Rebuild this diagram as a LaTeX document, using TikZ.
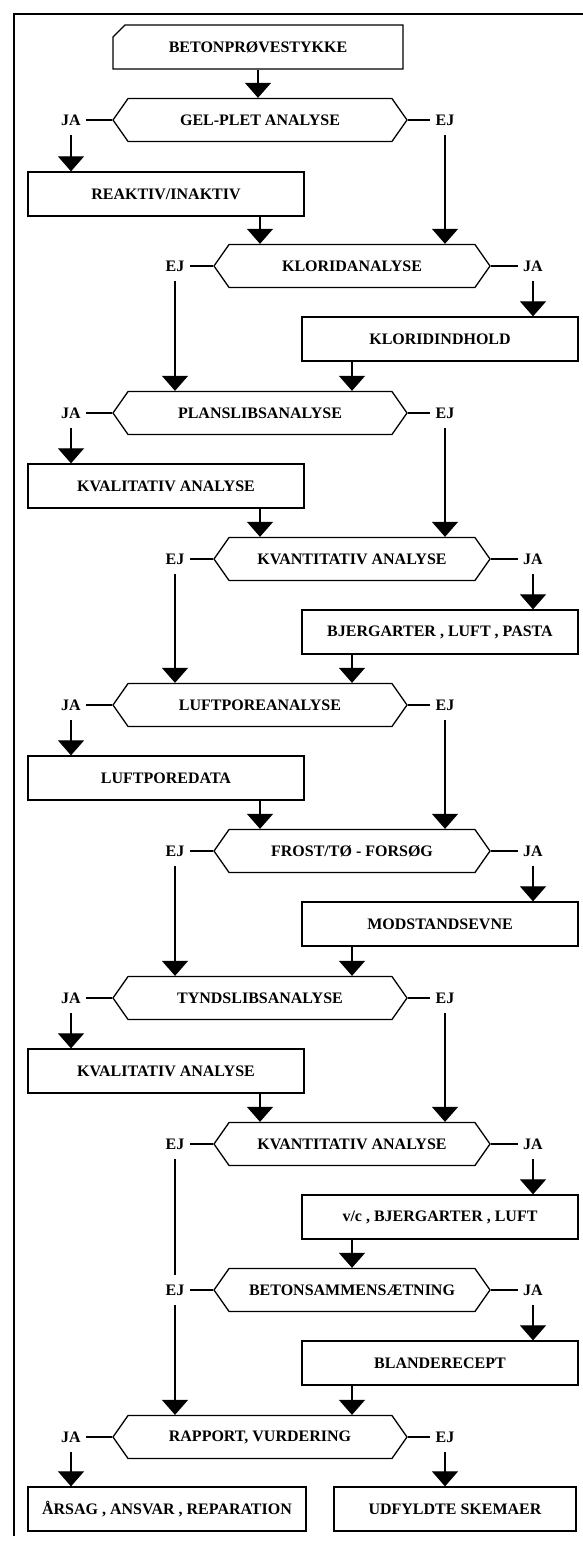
\documentclass[tikz,border=0pt]{standalone}
\usepackage{fontspec}
\setmainfont{Liberation Serif}
\usetikzlibrary{shapes.symbols,shapes.misc,arrows.meta}
\tikzstyle{txt} = [font=\bfseries\fontsize{16pt}{17pt}\selectfont, line width=1.3pt]
\tikzstyle{hexl} = [txt, signal, signal to=west and east, signal pointer angle=110, draw=black, minimum width=294pt, minimum height=43pt, inner sep=0pt]
\tikzstyle{hexr} = [hexl, minimum width=276pt]
\tikzstyle{boks} = [txt, rectangle, draw=black, minimum width=276pt, minimum height=44pt]
\tikzstyle{svar} = [txt, inner xsep=5pt, inner ysep=9pt]
\tikzstyle{streg} = [line width=1.2pt]
\tikzstyle{flow} = [streg, -{Triangle[width=26pt,length=15pt]}]

\begin{document}
\begin{tikzpicture}[x=1pt, y=-1pt]%
	\useasboundingbox (0,0) rectangle (583,1541);%
	\draw[line width=1.5pt] (583,14) -- (14,14) -- (14,1536);%
	% spoergsmaal
	\node[hexl] (h1) at (260,120) {GEL-PLET ANALYSE};%
	\node[hexr] (h2) at (352,266) {KLORIDANALYSE};%
	\node[hexl] (h3) at (260,413) {PLANSLIBSANALYSE};%
	\node[hexr] (h4) at (352,559) {KVANTITATIV ANALYSE};%
	\node[hexl] (h5) at (260,705) {LUFTPOREANALYSE};%
	\node[hexr] (h6) at (352,851) {FROST/TØ - FORSØG};%
	\node[hexl] (h7) at (260,998) {TYNDSLIBSANALYSE};%
	\node[hexr] (h8) at (352,1144) {KVANTITATIV ANALYSE};%
	\node[hexr] (h9) at (352,1290) {BETONSAMMENSÆTNING};%
	\node[hexl] (h10) at (260,1437) {RAPPORT, VURDERING};%
	% resultater
	\node[boks, chamfered rectangle, chamfered rectangle corners=north west, chamfered rectangle xsep=12pt, minimum width=290pt] (start) at (258,47) {BETONPRØVESTYKKE};%
	\node[boks] (b1) at (166,194) {REAKTIV/INAKTIV};%
	\node[boks] (b2) at (440,339) {KLORIDINDHOLD};%
	\node[boks] (b3) at (166,486) {KVALITATIV ANALYSE};%
	\node[boks] (b4) at (440,632) {BJERGARTER , LUFT , PASTA};%
	\node[boks] (b5) at (166,778) {LUFTPOREDATA};%
	\node[boks] (b6) at (440,924) {MODSTANDSEVNE};%
	\node[boks] (b7) at (166,1071) {KVALITATIV ANALYSE};%
	\node[boks] (b8) at (440,1217) {v/c , BJERGARTER , LUFT};%
	\node[boks] (b9) at (440,1363) {BLANDERECEPT};%
	\node[boks, minimum width=278pt] (b10) at (167,1509) {ÅRSAG , ANSVAR , REPARATION};%
	\node[boks, minimum width=242pt] (b11) at (455,1509) {UDFYLDTE SKEMAER};%
	% ja / ej
	\node[svar] (ja1) at (71,120) {JA};   \node[svar] (ej1) at (445,120) {EJ};%
	\node[svar] (ej2) at (175,266) {EJ};  \node[svar] (ja2) at (533,266) {JA};%
	\node[svar] (ja3) at (71,413) {JA};   \node[svar] (ej3) at (445,413) {EJ};%
	\node[svar] (ej4) at (175,559) {EJ};  \node[svar] (ja4) at (533,559) {JA};%
	\node[svar] (ja5) at (71,705) {JA};   \node[svar] (ej5) at (445,705) {EJ};%
	\node[svar] (ej6) at (175,851) {EJ};  \node[svar] (ja6) at (533,851) {JA};%
	\node[svar] (ja7) at (71,998) {JA};   \node[svar] (ej7) at (445,998) {EJ};%
	\node[svar] (ej8) at (175,1144) {EJ}; \node[svar] (ja8) at (533,1144) {JA};%
	\node[svar] (ej9) at (175,1290) {EJ}; \node[svar] (ja9) at (533,1290) {JA};%
	\node[svar] (ja10) at (71,1437) {JA}; \node[svar] (ej10) at (445,1437) {EJ};%
	% streger fra spoergsmaal til svar
	\draw[streg] (h1.west) -- (ja1.east) (h1.east) -- (ej1.west);%
	\draw[streg] (h2.west) -- (ej2.east) (h2.east) -- (ja2.west);%
	\draw[streg] (h3.west) -- (ja3.east) (h3.east) -- (ej3.west);%
	\draw[streg] (h4.west) -- (ej4.east) (h4.east) -- (ja4.west);%
	\draw[streg] (h5.west) -- (ja5.east) (h5.east) -- (ej5.west);%
	\draw[streg] (h6.west) -- (ej6.east) (h6.east) -- (ja6.west);%
	\draw[streg] (h7.west) -- (ja7.east) (h7.east) -- (ej7.west);%
	\draw[streg] (h8.west) -- (ej8.east) (h8.east) -- (ja8.west);%
	\draw[streg] (h9.west) -- (ej9.east) (h9.east) -- (ja9.west);%
	\draw[streg] (h10.west) -- (ja10.east) (h10.east) -- (ej10.west);%
	% pile
	\draw[flow] (start.south) -- (start.south |- h1.north);%
	\draw[flow] (ja1.south) -- (ja1.south |- b1.north);%
	\draw[flow] (ej1.south) -- (ej1.south |- h2.north);%
	\draw[flow] (b1.south -| h1) -- (h2.north -| h1);%
	\draw[flow] (ja2.south) -- (ja2.south |- b2.north);%
	\draw[flow] (ej2.south) -- (ej2.south |- h3.north);%
	\draw[flow] (b2.south -| h2) -- (h3.north -| h2);%
	\draw[flow] (ja3.south) -- (ja3.south |- b3.north);%
	\draw[flow] (ej3.south) -- (ej3.south |- h4.north);%
	\draw[flow] (b3.south -| h3) -- (h4.north -| h3);%
	\draw[flow] (ja4.south) -- (ja4.south |- b4.north);%
	\draw[flow] (ej4.south) -- (ej4.south |- h5.north);%
	\draw[flow] (b4.south -| h4) -- (h5.north -| h4);%
	\draw[flow] (ja5.south) -- (ja5.south |- b5.north);%
	\draw[flow] (ej5.south) -- (ej5.south |- h6.north);%
	\draw[flow] (b5.south -| h5) -- (h6.north -| h5);%
	\draw[flow] (ja6.south) -- (ja6.south |- b6.north);%
	\draw[flow] (ej6.south) -- (ej6.south |- h7.north);%
	\draw[flow] (b6.south -| h6) -- (h7.north -| h6);%
	\draw[flow] (ja7.south) -- (ja7.south |- b7.north);%
	\draw[flow] (ej7.south) -- (ej7.south |- h8.north);%
	\draw[flow] (b7.south -| h7) -- (h8.north -| h7);%
	\draw[flow] (ja8.south) -- (ja8.south |- b8.north);%
	\draw[streg] (ej8.south) -- (ej9.north);%
	\draw[flow] (b8.south -| h8) -- (h9.north -| h8);%
	\draw[flow] (ja9.south) -- (ja9.south |- b9.north);%
	\draw[flow] (ej9.south) -- (ej9.south |- h10.north);%
	\draw[flow] (b9.south -| h9) -- (h10.north -| h9);%
	\draw[flow] (ja10.south) -- (ja10.south |- b10.north);%
	\draw[flow] (ej10.south) -- (ej10.south |- b11.north);%
\end{tikzpicture}
\end{document}
